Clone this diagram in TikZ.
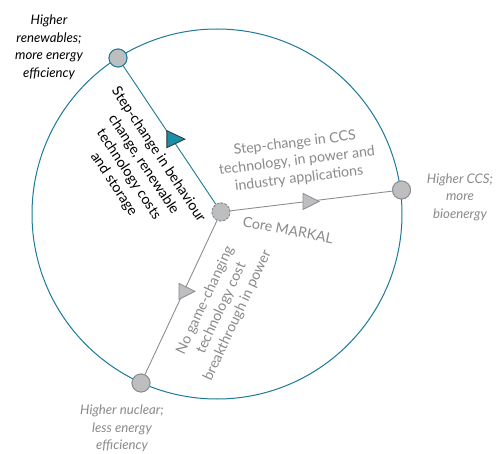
\documentclass[tikz,border=0pt]{standalone}
\usepackage{fontspec}
\setmainfont{Lato}
\usetikzlibrary{shapes.geometric}
\definecolor{ringblue}{HTML}{1B7A99}
\definecolor{tealfill}{HTML}{1A8FA8}
\definecolor{nodegrey}{HTML}{BDBEC0}
\definecolor{edgegrey}{HTML}{8E8E90}
\definecolor{txtgrey}{HTML}{8A8A8D}
\tikzset{
  endpt/.style={circle, fill=nodegrey, draw=edgegrey, line width=0.9pt, minimum size=18pt, inner sep=0pt},
  bluept/.style={endpt, draw=ringblue},
  corept/.style={endpt, dashed, dash pattern=on 2.5pt off 1.5pt},
  tri/.style={isosceles triangle, isosceles triangle stretches, shape border rotate=0,
    minimum width=16pt, minimum height=16pt, inner sep=0pt, fill=nodegrey, draw=edgegrey, line width=0.8pt},
  bluetri/.style={tri, minimum width=17pt, minimum height=18pt, fill=tealfill, draw=black!80},
  lbl/.style={align=center, font=\fontsize{14.2}{17.8}\selectfont, inner sep=0pt},
  greylbl/.style={lbl, text=txtgrey},
  outlbl/.style={lbl, font=\fontsize{13.2}{17.5}\selectfont\itshape},
  greyline/.style={draw=edgegrey, line width=0.9pt},
  blueline/.style={draw=ringblue, line width=0.9pt}
}
\begin{document}
\begin{tikzpicture}[x=1pt,y=1pt]
\useasboundingbox (0,0) rectangle (498,453);
\fill[white] (0,0) rectangle (498,453);
\draw[ringblue, line width=1pt] (217,239) circle (185);
% nodes
\node[corept] (c) at (221,241) {};
\node[bluept] (tl) at (118,395) {};
\node[endpt] (r) at (401.5,263) {};
\node[endpt] (b) at (141,70) {};
% connectors
\path[blueline] (c) -- node[pos=0.47, bluetri] (t1) {} (tl);
\path[greyline] (c) -- node[pos=0.48, tri] (t2) {} (r);
\path[greyline] (c) -- node[pos=0.46, tri] (t3) {} (b);
% redraw nodes on top
\node[corept] at (c) {};
\node[bluept] at (tl) {};
\node[endpt] at (r) {};
\node[endpt] at (b) {};
% labels on connectors
\node[lbl, rotate=-56.5] (l1) at (136,283.5) {Step-change in behaviour\\change, renewable\\technology costs\\and storage};
\node[greylbl, rotate=7] (l2) at (297,292) {Step-change in CCS\\technology, in power and\\industry applications};
\node[greylbl, rotate=65] (l3) at (221.5,145) {No game-changing\\technology cost\\breakthrough in power};
\node[greylbl, rotate=-11] (core) at (288,223) {Core MARKAL};
% outer labels
\node[outlbl] (o1) at (49,405.5) {Higher\\renewables;\\more energy\\efficiency};
\node[outlbl, text=txtgrey] (o2) at (460,256) {Higher CCS;\\more\\bioenergy};
\node[outlbl, text=txtgrey] (o3) at (122,24.5) {Higher nuclear;\\less energy\\efficiency};
\end{tikzpicture}
\end{document}
